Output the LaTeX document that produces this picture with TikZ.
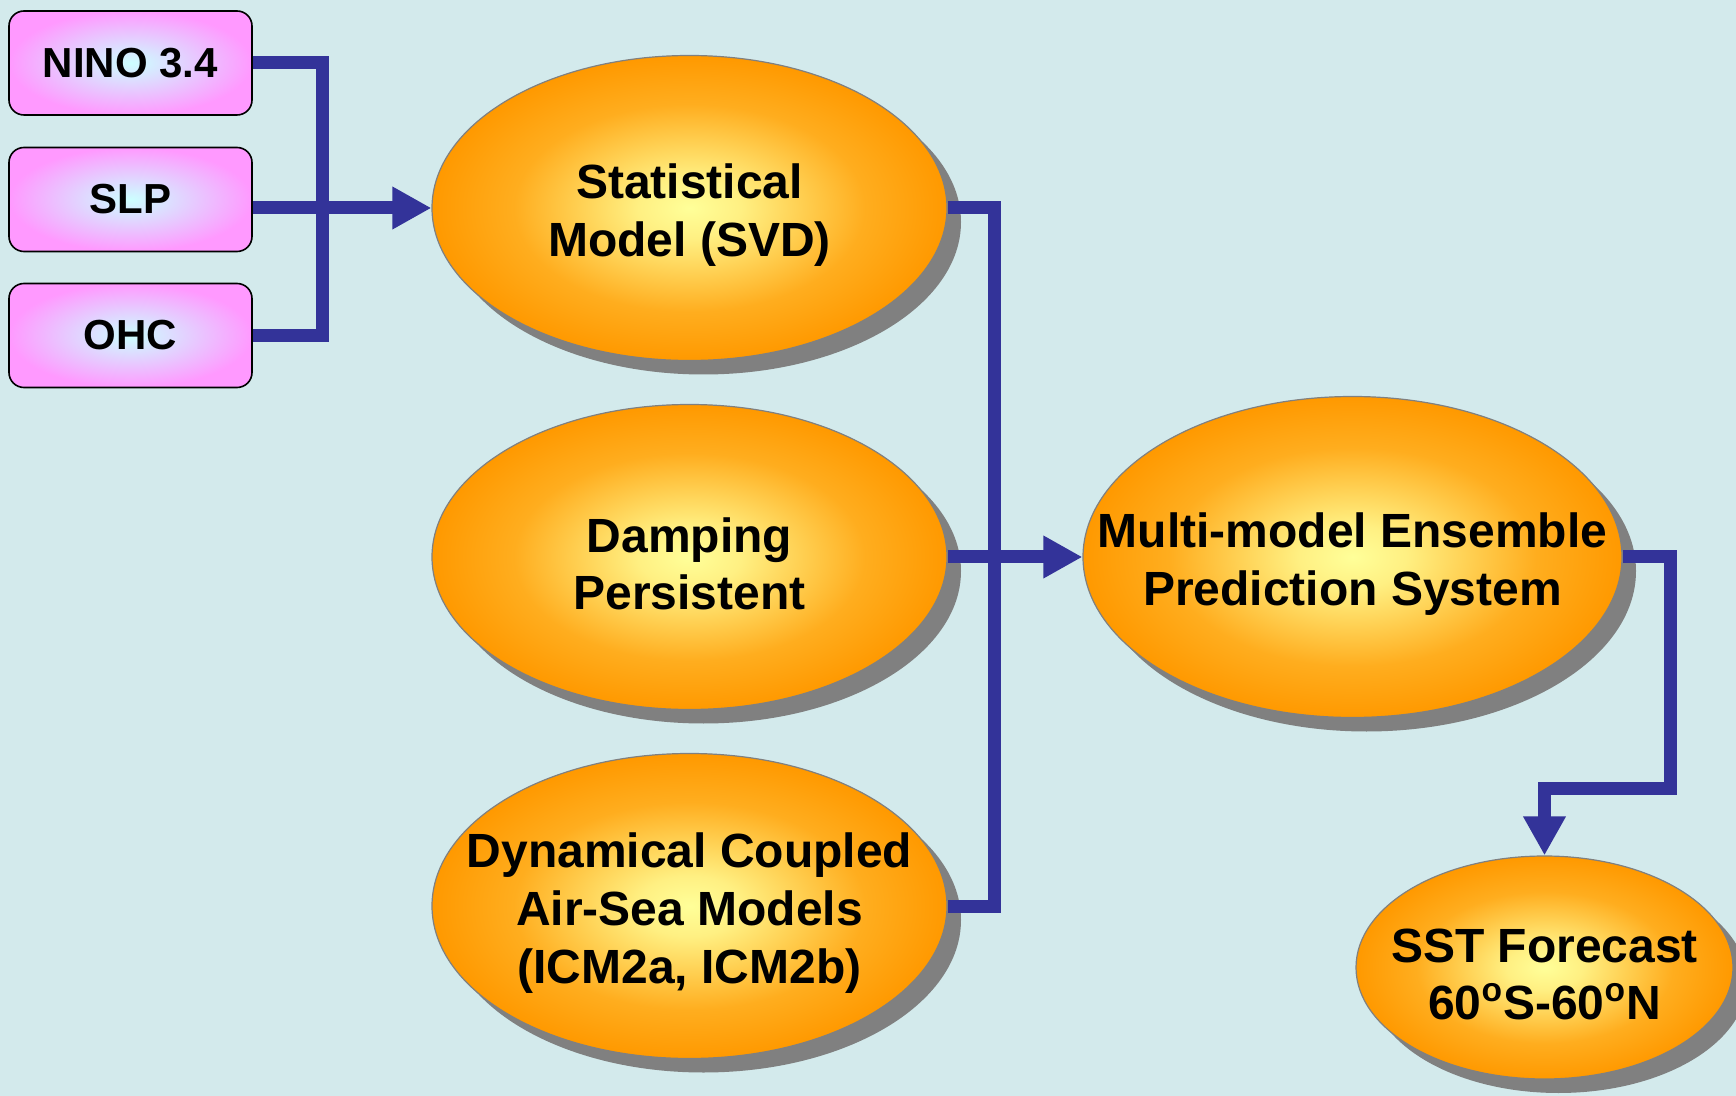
\documentclass[tikz,border=0pt]{standalone}
\usepackage{fontspec}
\setmainfont{Liberation Sans}
\usetikzlibrary{arrows.meta,shadows,shapes.geometric}
\definecolor{bgc}{RGB}{211,234,236}
\definecolor{linec}{RGB}{51,51,153}
\definecolor{pinkc}{RGB}{255,153,255}
\definecolor{cyanc}{RGB}{204,255,255}
\definecolor{orc}{RGB}{255,153,0}
\definecolor{yelc}{RGB}{255,255,153}
\definecolor{shc}{RGB}{128,128,128}
\pgfdeclareradialshading{ellshade}{\pgfpointorigin}{color(0bp)=(yelc); color(5bp)=(yelc!85!orc); color(17bp)=(orc!80!yelc); color(25bp)=(orc); color(50bp)=(orc)}
\begin{document}
\begin{tikzpicture}[x=0.5pt,y=-0.5pt,
  inbox/.style={rectangle, rounded corners=7.5pt, draw=black, line width=0.8pt,
    shade, inner color=cyanc, outer color=pinkc,
    minimum width=121.5pt, minimum height=52pt, inner sep=0pt,
    font=\bfseries\fontsize{21}{24}\selectfont},
  ell/.style={ellipse, draw=shc, line width=0.6pt, shade, shading=ellshade, inner sep=0pt,
    drop shadow={shadow xshift=7pt, shadow yshift=-7pt, fill=shc, opacity=1}},
  ltext/.style={align=center, inner sep=0pt, yshift=-3.5pt, font=\bfseries\fontsize{24}{28.8}\selectfont},
  conn/.style={draw=linec, line width=6.5pt},
  arr/.style={conn, -{Triangle[length=19.5pt,width=20pt]}}
]
\useasboundingbox (0,0) rectangle (1736,1096);
\fill[bgc] (0,0) rectangle (1736,1096);

\node[inbox] (nino) at (130.5,63) {NINO 3.4};
\node[inbox] (slp) at (130.5,199.5) {SLP};
\node[inbox] (ohc) at (130.5,335.5) {OHC};

\node[ell, minimum width=257.5pt, minimum height=152.5pt,
  label={[ltext]center:{Statistical\\Model (SVD)}}] (stat) at (689.5,208) {};
\node[ell, minimum width=257.5pt, minimum height=152.5pt,
  label={[ltext]center:{Damping\\Persistent}}] (damp) at (689.5,557) {};
\node[ell, minimum width=257.5pt, minimum height=152.5pt,
  label={[ltext]center:{Dynamical Coupled\\Air-Sea Models\\(ICM2a, ICM2b)}}] (dyn) at (689.5,906) {};
\node[ell, minimum width=269.5pt, minimum height=160.5pt,
  label={[ltext]center:{Multi-model Ensemble\\Prediction System}}] (multi) at (1352.5,557) {};
\node[ell, minimum width=188.5pt, minimum height=111.5pt,
  label={[ltext]center:{SST Forecast\\60\textsuperscript{o}S-60\textsuperscript{o}N}}] (sst) at (1544.5,967.5) {};

\coordinate (b1) at (322,0);
\coordinate (b2) at (994,0);
\coordinate (b3) at (1670,788);

\draw[conn] (nino.east) -| (b1 |- ohc.east) -- (ohc.east);
\draw[arr] (slp.east |- stat.west) -- (stat.west);
\draw[conn] (stat.east) -| (b2 |- dyn.east) -- (dyn.east);
\draw[arr] (damp.east) -- (multi.west);
\draw[arr] (multi.east) -| (b3) -| (sst.north);
\end{tikzpicture}
\end{document}
